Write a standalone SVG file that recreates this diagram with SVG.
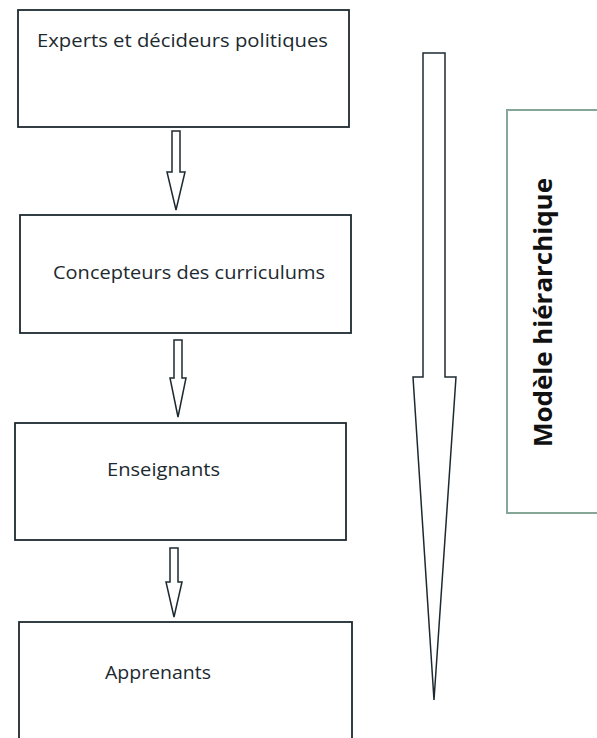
<svg xmlns="http://www.w3.org/2000/svg" width="597" height="738" viewBox="0 0 597 738">
<style>
.box{fill:#ffffff;stroke:#1c2a30;stroke-width:1.8}
.arr{fill:#ffffff;stroke:#1c2a30;stroke-width:1.5;stroke-linejoin:miter}
.lbl{font-family:"Open Sans","Liberation Sans",sans-serif;font-size:19px;fill:#1c2a30}
.side{fill:#ffffff;stroke:#86a697;stroke-width:2}
.title{font-family:"Open Sans","Liberation Sans",sans-serif;font-size:25px;font-weight:bold;fill:#111}
</style>
<rect width="597" height="738" fill="#ffffff"/>
<g id="node-experts">
<rect class="box" x="18" y="10" width="331" height="117"/>
<text class="lbl" x="37" y="47" textLength="291" lengthAdjust="spacingAndGlyphs">Experts et décideurs politiques</text>
</g>
<g id="node-concepteurs">
<rect class="box" x="20" y="215" width="331" height="118"/>
<text class="lbl" x="53" y="279" textLength="272" lengthAdjust="spacingAndGlyphs">Concepteurs des curriculums</text>
</g>
<g id="node-enseignants">
<rect class="box" x="15" y="423" width="331" height="117"/>
<text class="lbl" x="107" y="476" textLength="113" lengthAdjust="spacingAndGlyphs">Enseignants</text>
</g>
<g id="node-apprenants">
<rect class="box" x="19" y="622" width="333" height="130"/>
<text class="lbl" x="105" y="679" textLength="106" lengthAdjust="spacingAndGlyphs">Apprenants</text>
</g>
<g id="node-modele">
<rect class="side" x="507" y="110" width="100" height="403"/>
<text class="title" transform="translate(552,312.5) rotate(-90)" text-anchor="middle" textLength="269" lengthAdjust="spacingAndGlyphs">Modèle hiérarchique</text>
</g>
<g id="connectors">
<path class="arr" d="M172,131 H180 V172 H185 L176,210 L167,172 H172 Z"/>
<path class="arr" d="M174,340 H182 V378 H186 L178,417 L170,378 H174 Z"/>
<path class="arr" d="M170,548 H178 V582 H182 L174,617 L166,582 H170 Z"/>
<path class="arr" d="M423,53 H445 V377 H456 L434,700 L413,377 H423 Z"/>
</g>
</svg>
